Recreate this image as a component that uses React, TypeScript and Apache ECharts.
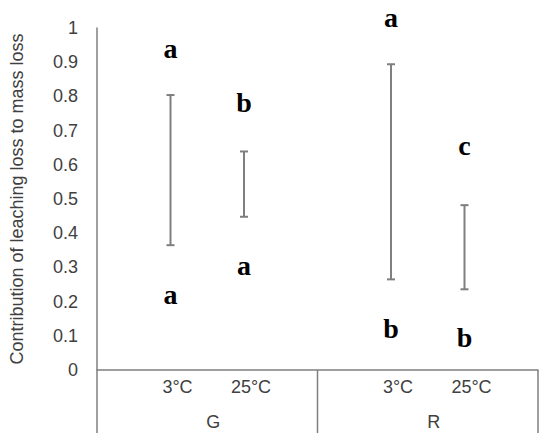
import React, { useEffect, useRef } from "react";
import * as echarts from "echarts";

const groups = ["G", "R"];
// position on x scale (0..6): groups span [0,3] and [3,6]
const positions = [1, 2, 4, 5];
const barLabels = ["3°C", "25°C", "3°C", "25°C"];
const lowValues = [0.365, 0.448, 0.265, 0.236];
const highValues = [0.804, 0.639, 0.894, 0.482];
const topLetters = ["a", "b", "a", "c"];
const topLetterY = [0.94, 0.782, 1.03, 0.655];
const bottomLetters = ["a", "a", "b", "b"];
const bottomLetterY = [0.22, 0.305, 0.12, 0.095];

export default function App() {
  const ref = useRef<HTMLDivElement>(null);
  useEffect(() => {
    if (!ref.current) return;
    const chart = echarts.init(ref.current, undefined, { renderer: "svg" });
    const axisColor = "#7f7f7f";
    const textColor = "#404040";
    const font = "Liberation Sans, Arial";
    const errData = positions.map((p, i) => [p, lowValues[i], highValues[i]]);
    const letterData: any[] = [];
    positions.forEach((p, i) => {
      letterData.push([p, topLetterY[i], topLetters[i]]);
      letterData.push([p, bottomLetterY[i], bottomLetters[i]]);
    });
    chart.setOption({
      animation: false,
      grid: { left: 90, right: 12, top: 28, bottom: 77 },
      xAxis: {
        type: "value",
        min: 0,
        max: 6,
        interval: 1,
        axisLine: { show: true, onZero: false, lineStyle: { color: axisColor, width: 1.5 } },
        axisTick: { show: false },
        splitLine: { show: false },
        axisLabel: { show: false },
      },
      yAxis: {
        type: "value",
        min: 0,
        max: 1,
        interval: 0.1,
        name: "Contribution of leaching loss to mass loss",
        nameLocation: "middle",
        nameGap: 71,
        nameTextStyle: { fontFamily: font, fontSize: 18, color: textColor },
        axisLine: { show: true, lineStyle: { color: axisColor, width: 1.5 } },
        axisTick: { show: false },
        splitLine: { show: false },
        axisLabel: {
          fontFamily: font,
          fontSize: 18,
          color: textColor,
          margin: 19,
          formatter: (v: number) => String(Math.round(v * 10) / 10),
        },
      },
      series: [
        {
          type: "custom",
          data: errData,
          renderItem: (params: any, api: any) => {
            const x = api.value(0);
            const lo = api.coord([x, api.value(1)]);
            const hi = api.coord([x, api.value(2)]);
            const cap = 4;
            const style = { stroke: "#7f7f7f", lineWidth: 2 };
            return {
              type: "group",
              children: [
                { type: "line", shape: { x1: lo[0], y1: lo[1], x2: hi[0], y2: hi[1] }, style },
                { type: "line", shape: { x1: hi[0] - cap, y1: hi[1], x2: hi[0] + cap, y2: hi[1] }, style },
                { type: "line", shape: { x1: lo[0] - cap, y1: lo[1], x2: lo[0] + cap, y2: lo[1] }, style },
              ],
            };
          },
        },
        {
          type: "custom",
          data: letterData,
          renderItem: (params: any, api: any) => {
            const pt = api.coord([api.value(0), api.value(1)]);
            return {
              type: "text",
              x: pt[0],
              y: pt[1],
              style: {
                text: letterData[params.dataIndex][2],
                fontFamily: "Liberation Serif, Times New Roman",
                fontWeight: "bold",
                fontSize: 28,
                fill: "#000",
                align: "center",
                verticalAlign: "middle",
              },
            };
          },
        },
      ],
    });

    const toPx = (x: number, y: number) => chart.convertToPixel({ gridIndex: 0 }, [x, y]) as number[];
    const base = toPx(0, 0);
    const bottomY = base[1] + 63;
    const lineStyle = { stroke: axisColor, lineWidth: 1.5 };
    const graphics: any[] = [];
    [0, 3, 6].forEach((s) => {
      const p = toPx(s, 0);
      graphics.push({ type: "line", shape: { x1: p[0], y1: p[1], x2: p[0], y2: bottomY }, style: lineStyle });
    });
    positions.forEach((pos, i) => {
      const p = toPx(pos, 0);
      graphics.push({
        type: "text",
        x: p[0] + 7,
        y: p[1] + 17,
        style: { text: barLabels[i], fontFamily: font, fontSize: 18, fill: textColor, align: "center", verticalAlign: "middle" },
      });
    });
    groups.forEach((g, i) => {
      const p = toPx(1.5 + 3 * i, 0);
      graphics.push({
        type: "text",
        x: p[0] + 6,
        y: p[1] + 52,
        style: { text: g, fontFamily: font, fontSize: 18, fill: textColor, align: "center", verticalAlign: "middle" },
      });
    });
    chart.setOption({ graphic: graphics });
    return () => chart.dispose();
  }, []);
  return <div ref={ref} style={{ width: 550, height: 447, margin: -8 }} />;
}
